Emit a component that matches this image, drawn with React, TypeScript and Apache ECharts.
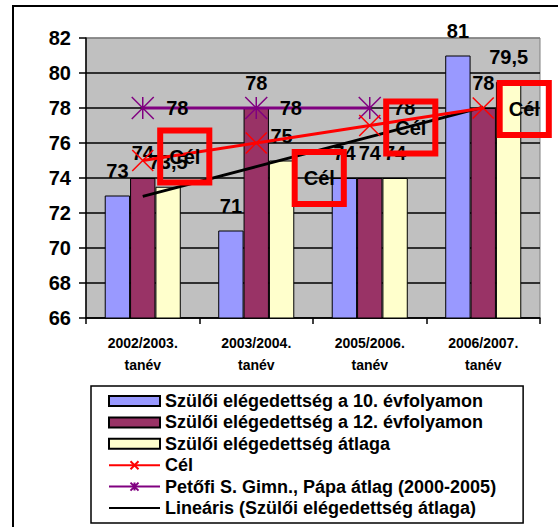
import React, { useEffect, useRef } from "react";
import * as echarts from "echarts";

const categories = ["2002/2003.\ntanév", "2003/2004.\ntanév", "2005/2006.\ntanév", "2006/2007.\ntanév"];
const grade10 = [73, 71, 74, 81];
const grade12 = [74, 78, 74, 78];
const parentAverage = [73.5, 75, 74, 79.5];
const target = [75, 76, 77, 78];
const schoolAverage: (number | string)[] = [78, 78, 78, "-"];
const trend = [72.95, 74.65, 76.35, 78.05];
const yTicks = [66, 68, 70, 72, 74, 76, 78, 80, 82];

const names = [
  "Szülői elégedettség a 10. évfolyamon",
  "Szülői elégedettség a 12. évfolyamon",
  "Szülői elégedettség átlaga",
  "Cél",
  "Petőfi S. Gimn., Pápa átlag (2000-2005)",
  "Lineáris (Szülői elégedettség átlaga)",
];

// label placement of the "Cél" boxes (style, not data)
const targetLabelOffsets = [
  [42, -4],
  [63, 35],
  [41, 2],
  [41, 1],
];

const FONT = "'Liberation Sans', Arial, sans-serif";
const X_PATH = "path://M0,0L10,10M10,0L0,10";
const STAR_PATH = "path://M0,0L10,10M10,0L0,10M5,0L5,10";

const fmt = (p: any) => String(p.value).replace(".", ",");

const barLabel = {
  show: true,
  position: "top" as const,
  distance: 15,
  fontSize: 20,
  fontWeight: "bold" as const,
  fontFamily: FONT,
  color: "#000",
  formatter: fmt,
};

export default function App() {
  const ref = useRef<HTMLDivElement>(null);
  useEffect(() => {
    if (!ref.current) return;
    const chart = echarts.init(ref.current, null, { renderer: "svg" });
    const splitColors = yTicks.map((_, i) => (i === yTicks.length - 1 ? "#808080" : "#000"));
    chart.setOption({
      animation: false,
      backgroundColor: "#fff",
      textStyle: { fontFamily: FONT },
      grid: {
        left: 86,
        right: 18,
        top: 38,
        bottom: 209,
        show: true,
        backgroundColor: "#C0C0C0",
        borderColor: "#808080",
        borderWidth: 1,
      },
      graphic: [
        {
          type: "rect",
          shape: { x: 13, y: 6, width: 600, height: 600 },
          style: { fill: "none", stroke: "#000", lineWidth: 2 },
          silent: true,
        },
      ],
      legend: {
        orient: "vertical",
        left: 91,
        top: 386,
        padding: [6, 27, 6, 17],
        itemWidth: 51,
        itemHeight: 10,
        itemGap: 3.4,
        borderColor: "#000",
        borderWidth: 1.5,
        backgroundColor: "#fff",
        textStyle: { fontSize: 18, fontWeight: "bold", color: "#000", fontFamily: FONT, lineHeight: 18 },
        data: [
          { name: names[0], icon: "rect" },
          { name: names[1], icon: "rect" },
          { name: names[2], icon: "rect" },
          { name: names[3] },
          { name: names[4] },
          { name: names[5] },
        ],
      },
      xAxis: {
        type: "category",
        data: categories,
        axisLine: { lineStyle: { color: "#000", width: 1.5 } },
        axisTick: { show: true, length: 6, lineStyle: { color: "#000", width: 1.5 } },
        axisLabel: {
          fontSize: 14,
          fontWeight: "bold",
          color: "#000",
          fontFamily: FONT,
          lineHeight: 22,
          margin: 14,
        },
        splitLine: { show: false },
      },
      yAxis: {
        type: "value",
        min: 66,
        max: 82,
        interval: 2,
        axisLine: { show: true, lineStyle: { color: "#000", width: 1.5 } },
        axisTick: { show: true, length: 7, lineStyle: { color: "#000", width: 1.5 } },
        axisLabel: { fontSize: 20, fontWeight: "bold", color: "#000", fontFamily: FONT, margin: 15 },
        splitLine: { show: true, lineStyle: { color: splitColors, width: 1.5 } },
      },
      series: [
        {
          name: names[0],
          type: "bar",
          data: grade10,
          barGap: "0%",
          barCategoryGap: "33%",
          itemStyle: { color: "#9999FF", borderColor: "#000", borderWidth: 1 },
          label: barLabel,
          z: 2,
        },
        {
          name: names[1],
          type: "bar",
          data: grade12,
          barGap: "0%",
          barCategoryGap: "33%",
          itemStyle: { color: "#993366", borderColor: "#000", borderWidth: 1 },
          label: barLabel,
          z: 2,
        },
        {
          name: names[2],
          type: "bar",
          data: parentAverage,
          barGap: "0%",
          barCategoryGap: "33%",
          itemStyle: { color: "#FFFFCC", borderColor: "#000", borderWidth: 1 },
          label: barLabel,
          z: 2,
        },
        {
          name: names[5],
          type: "line",
          data: trend,
          symbol: "none",
          lineStyle: { color: "#000", width: 3 },
          itemStyle: { color: "transparent", borderColor: "transparent" },
          z: 3,
        },
        {
          name: names[4],
          type: "line",
          data: schoolAverage,
          symbol: STAR_PATH,
          symbolSize: 22,
          lineStyle: { color: "#800080", width: 3 },
          itemStyle: { color: "none", borderColor: "#800080", borderWidth: 1.5 },
          label: {
            show: true,
            position: "right",
            distance: 10,
            fontSize: 20,
            fontWeight: "bold",
            color: "#000",
            fontFamily: FONT,
            formatter: fmt,
          },
          z: 4,
        },
        {
          name: names[3],
          type: "line",
          data: target.map((v, i) => ({
            value: v,
            label: { offset: targetLabelOffsets[i] },
          })),
          symbol: X_PATH,
          symbolSize: 21,
          lineStyle: { color: "#FF0000", width: 3 },
          itemStyle: { color: "none", borderColor: "#FF0000", borderWidth: 1.5 },
          label: {
            show: true,
            position: "inside",
            formatter: "{a}",
            fontSize: 20,
            fontWeight: "bold",
            color: "#000",
            fontFamily: FONT,
            borderColor: "#FF0000",
            borderWidth: 3,
            padding: [16, 9, 16, 9],
            backgroundColor: "transparent",
          },
          z: 5,
        },
      ],
    });
    return () => chart.dispose();
  }, []);
  return (
    <div
      ref={ref}
      style={{ position: "fixed", left: 0, top: 0, width: 558, height: 527 }}
    />
  );
}
